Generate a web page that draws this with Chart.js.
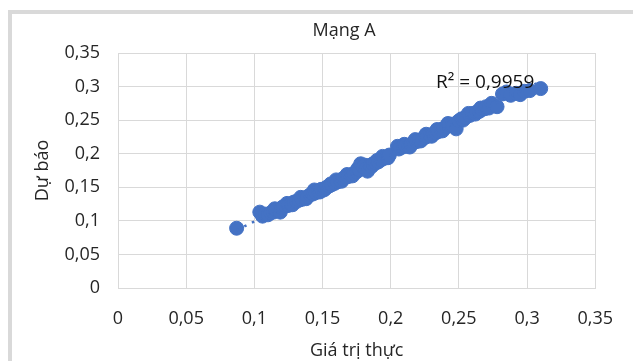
<!DOCTYPE html>
<html>
<head>
<meta charset="utf-8">
<script src="https://cdn.jsdelivr.net/npm/chart.js@4"></script>
<style>
  html, body { margin: 0; padding: 0; background: #fff; overflow: hidden; }
  #khung { position: absolute; left: 8px; top: 10px; width: 700px; height: 400px;
           border-left: 4px solid #d9d9d9; border-top: 4px solid #d9d9d9; }
  #wrap { position: absolute; left: 0; top: 0; width: 633px; height: 361px; }
</style>
</head>
<body>
<div id="khung"></div>
<div id="wrap"><canvas id="mang-a"></canvas></div>
<script>
  const tieuDe = "Mạng A";
  const tenTrucX = "Giá trị thực";
  const tenTrucY = "Dự báo";
  const nhanR2 = "R² = 0,9959";

  // gia tri thuc (truc X)
  const thuc = [
    0.087, 0.104, 0.106, 0.108, 0.110, 0.112, 0.114, 0.115, 0.116, 0.118,
    0.119, 0.120, 0.121, 0.123, 0.124, 0.125, 0.127, 0.128, 0.129, 0.131,
    0.133, 0.134, 0.135, 0.137, 0.138, 0.139, 0.141, 0.143, 0.144, 0.145,
    0.147, 0.148, 0.149, 0.151, 0.152, 0.153, 0.155, 0.156, 0.157, 0.159,
    0.160, 0.161, 0.163, 0.164, 0.165, 0.167, 0.168, 0.169, 0.171, 0.172,
    0.173, 0.175, 0.176, 0.177, 0.178, 0.180, 0.181, 0.182, 0.183, 0.185,
    0.186, 0.187, 0.189, 0.190, 0.191, 0.193, 0.194, 0.195, 0.197, 0.198,
    0.199, 0.205, 0.206, 0.207, 0.209, 0.210, 0.211, 0.213, 0.214, 0.215,
    0.217, 0.218, 0.219, 0.221, 0.222, 0.223, 0.225, 0.226, 0.227, 0.229,
    0.230, 0.231, 0.233, 0.234, 0.235, 0.237, 0.238, 0.239, 0.241, 0.242,
    0.243, 0.245, 0.246, 0.248, 0.250, 0.252, 0.253, 0.255, 0.257, 0.258,
    0.260, 0.262, 0.263, 0.265, 0.266, 0.267, 0.269, 0.270, 0.272, 0.274,
    0.275, 0.278, 0.282, 0.285, 0.288, 0.292, 0.295, 0.298, 0.302, 0.310
  ];

  // gia tri du bao (truc Y)
  const duBao = [
    0.089, 0.113, 0.107, 0.110, 0.109, 0.112, 0.113, 0.118, 0.116, 0.115,
    0.113, 0.119, 0.121, 0.122, 0.126, 0.123, 0.125, 0.124, 0.128, 0.129,
    0.131, 0.135, 0.132, 0.134, 0.133, 0.136, 0.139, 0.140, 0.146, 0.142,
    0.144, 0.143, 0.147, 0.146, 0.148, 0.150, 0.152, 0.155, 0.154, 0.156,
    0.161, 0.158, 0.160, 0.159, 0.163, 0.165, 0.169, 0.166, 0.168, 0.167,
    0.171, 0.173, 0.178, 0.176, 0.185, 0.180, 0.183, 0.178, 0.174, 0.183,
    0.181, 0.185, 0.186, 0.190, 0.188, 0.191, 0.196, 0.193, 0.195, 0.194,
    0.198, 0.211, 0.207, 0.209, 0.210, 0.214, 0.212, 0.211, 0.210, 0.214,
    0.217, 0.221, 0.218, 0.220, 0.219, 0.222, 0.224, 0.229, 0.226, 0.228,
    0.226, 0.229, 0.231, 0.236, 0.233, 0.236, 0.234, 0.238, 0.240, 0.245,
    0.243, 0.244, 0.241, 0.237, 0.249, 0.252, 0.250, 0.254, 0.260, 0.257,
    0.260, 0.259, 0.262, 0.263, 0.268, 0.266, 0.267, 0.270, 0.268, 0.275,
    0.272, 0.270, 0.289, 0.292, 0.287, 0.290, 0.288, 0.293, 0.294, 0.297
  ];

  const vach = [0, 0.05, 0.1, 0.15, 0.2, 0.25, 0.3, 0.35];

  const mauDiem = "#4472c4";
  const mauChu = "#262626";
  const mauLuoi = "#d9d9d9";
  const phong = "'Open Sans', 'Noto Sans', sans-serif";

  // duong xu huong tuyen tinh (binh phuong toi thieu)
  function duongXuHuong(xs, ys) {
    const n = xs.length;
    let sx = 0, sy = 0, sxy = 0, sxx = 0;
    for (let i = 0; i < n; i++) {
      sx += xs[i]; sy += ys[i]; sxy += xs[i] * ys[i]; sxx += xs[i] * xs[i];
    }
    const a = (n * sxy - sx * sy) / (n * sxx - sx * sx);
    const b = (sy - a * sx) / n;
    const x0 = Math.min(...xs), x1 = Math.max(...xs);
    return [{ x: x0, y: a * x0 + b }, { x: x1, y: a * x1 + b }];
  }

  const soVN = v => String(+v.toFixed(2)).replace(".", ",");

  // tieu de va nhan R2 ve tay
  const chuThem = {
    id: "chuThem",
    afterDraw(chart) {
      const ctx = chart.ctx;
      ctx.save();
      ctx.fillStyle = mauChu;
      ctx.textBaseline = "middle";
      ctx.textAlign = "center";
      ctx.font = "18px " + phong;
      ctx.fillText(tieuDe, 344, 31);
      ctx.textAlign = "left";
      ctx.fillStyle = "#111";
      ctx.font = "19px " + phong;
      ctx.fillText(nhanR2, 436, 83);
      ctx.restore();
    }
  };

  new Chart(document.getElementById("mang-a"), {
    type: "scatter",
    data: {
      datasets: [
        {
          data: thuc.map((x, i) => ({ x: x, y: duBao[i] })),
          backgroundColor: mauDiem,
          borderColor: mauDiem,
          pointRadius: 7,
          pointHoverRadius: 7,
          order: 2
        },
        {
          type: "line",
          data: duongXuHuong(thuc, duBao),
          borderColor: mauDiem,
          borderWidth: 2.5,
          borderDash: [2.5, 6],
          pointRadius: 0,
          fill: false,
          order: 1
        }
      ]
    },
    options: {
      responsive: true,
      maintainAspectRatio: false,
      animation: false,
      layout: { padding: { top: 53, right: 28, bottom: 0, left: 0 } },
      plugins: {
        legend: { display: false },
        tooltip: { enabled: false }
      },
      scales: {
        x: {
          type: "linear",
          min: 0,
          max: 0.35,
          afterBuildTicks: s => { s.ticks = vach.map(v => ({ value: v })); },
          afterFit: s => { s.height = 73; },
          grid: { color: mauLuoi, lineWidth: 1, drawTicks: false },
          border: { color: mauLuoi },
          ticks: { color: mauChu, font: { family: phong, size: 18 }, padding: 20, callback: soVN, maxRotation: 0 },
          title: { display: true, text: tenTrucX, color: mauChu, font: { family: phong, size: 18 }, padding: { top: 0, bottom: -1 } }
        },
        y: {
          type: "linear",
          min: 0,
          max: 0.35,
          afterBuildTicks: s => { s.ticks = vach.map(v => ({ value: v })); },
          afterFit: s => { s.width = 118; },
          grid: { color: mauLuoi, lineWidth: 1, drawTicks: false },
          border: { color: mauLuoi },
          ticks: { color: mauChu, font: { family: phong, size: 18 }, padding: 18, callback: soVN },
          title: { display: true, text: tenTrucY, color: mauChu, font: { family: phong, size: 18 }, padding: { top: 32, bottom: 0 } }
        }
      }
    },
    plugins: [chuThem]
  });
</script>
</body>
</html>
